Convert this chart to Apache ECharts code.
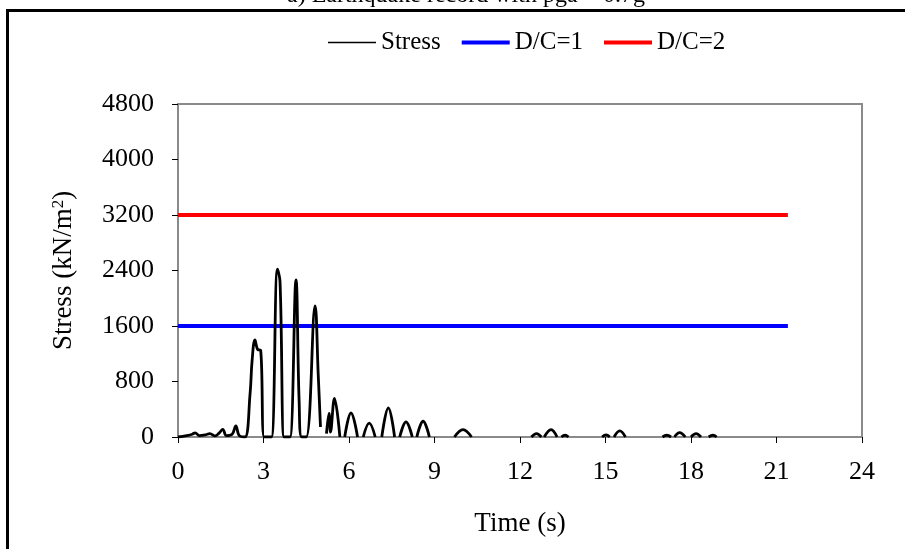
<!DOCTYPE html>
<html>
<head>
<meta charset="utf-8">
<script src="https://cdn.jsdelivr.net/npm/echarts@6/dist/echarts.min.js"></script>
<style>
  html, body { margin: 0; padding: 0; background: #fff; }
  #main { width: 905px; height: 549px; }
</style>
</head>
<body>
<div id="main"></div>
<script>
// stress trace, null = gap in the plotted line
const time = [
  0, 0.3, 0.5, 0.6, 0.75, 0.95, 1.12, 1.3, 1.45, 1.57, 1.7, 1.9, 2.03, 2.15, 2.35,
  2.53, 2.6, 2.7, 2.8, 2.9, 3.02, 3.15, 3.28, 3.49, 3.58, 3.72, 3.82, 3.93, 4.14, 4.25, 4.34,
  4.5, 4.81, 4.92, 5.0, 5.1,
  5.21, 5.3, 5.35, 5.49, 5.68, 5.75,
  5.85, 6.07, 6.3, 6.4,
  6.5, 6.71, 6.92, 7.0,
  7.15, 7.38, 7.6, 7.7,
  7.78, 8.0, 8.22, 8.3,
  8.38, 8.6, 8.82, 9.0,
  9.7, 10.0, 10.3, 10.5,
  12.4, 12.58, 12.75, 12.8,
  12.85, 13.09, 13.3, 13.4,
  13.45, 13.58, 13.7, 14.0,
  14.88, 15.02, 15.15, 15.2,
  15.3, 15.5, 15.7, 16.0,
  17.0, 17.15, 17.3, 17.35,
  17.42, 17.6, 17.8, 17.9,
  18.0, 18.18, 18.35, 18.5,
  18.62, 18.77, 18.9, 19.0
];
const stress = [
  0, 20, 40, 60, 20, 30, 50, 15, 60, 110, 20, 40, 160, 20, 0,
  630, 1100, 1400, 1260, 1250, 0, 0, 0, 2420, 2240, 0, 0, 0, 2265, 520, 0,
  0, 1890, 900, 145, null,
  50, 340, 70, 555, 0, null,
  0, 347, 0, null,
  0, 200, 0, null,
  0, 420, 0, null,
  0, 217, 0, null,
  0, 227, 0, null,
  0, 107, 0, null,
  0, 50, 0, null,
  0, 107, 0, null,
  0, 25, 0, null,
  0, 30, 0, null,
  0, 87, 0, null,
  0, 25, 0, null,
  0, 63, 0, null,
  0, 48, 0, null,
  0, 25, 0, null
];
const limitTime = [0, 21.4];
const dc1 = [1600, 1600];
const dc2 = [3200, 3200];
const xTicks = { min: 0, max: 24, interval: 3 };
const yTicks = { min: 0, max: 4800, interval: 800 };

const font = 'Liberation Serif';
const chartDom = document.getElementById('main');
const myChart = echarts.init(chartDom, null, { renderer: 'canvas' });

const stressData = time.map((t, i) => [t, stress[i] === null ? '-' : stress[i]]);

// legend icons: plain bars, the thin one padded with hairlines so it keeps its height
const thinBar = 'path://M0 0H48V0.05H0Z M0 1.3H48V2.7H0Z M0 3.95H48V4H0Z';

let option;

option = {
  backgroundColor: '#fff',
  animation: false,
  title: {
    text: 'a) Earthquake record with pga = 0.7g',
    left: 282,
    top: -21,
    textStyle: { fontFamily: font, fontSize: 24, fontWeight: 'normal', color: '#000' }
  },
  graphic: [{
    type: 'rect',
    shape: { x: 7.5, y: 10.5, width: 1000, height: 1000 },
    style: { fill: 'none', stroke: '#000', lineWidth: 3 },
    silent: true
  }],
  legend: {
    left: 323,
    top: 25,
    itemWidth: 48,
    itemHeight: 4,
    itemGap: 21,
    textStyle: { fontFamily: font, fontSize: 25, color: '#000' },
    data: [
      { name: 'Stress', icon: thinBar },
      { name: 'D/C=1', icon: 'rect' },
      { name: 'D/C=2', icon: 'rect' }
    ]
  },
  grid: {
    left: 178,
    right: 43,
    top: 104,
    bottom: 112,
    show: true,
    borderColor: '#8a8a8a',
    borderWidth: 2,
    backgroundColor: 'transparent'
  },
  xAxis: {
    type: 'value',
    min: xTicks.min,
    max: xTicks.max,
    interval: xTicks.interval,
    name: 'Time (s)',
    nameLocation: 'middle',
    nameGap: 73,
    nameTextStyle: { fontFamily: font, fontSize: 27, color: '#000' },
    axisLine: { lineStyle: { color: '#8a8a8a', width: 2 } },
    axisTick: { inside: false, length: 6, lineStyle: { color: '#000', width: 1 } },
    axisLabel: { fontFamily: font, fontSize: 26, color: '#000', margin: 22 },
    splitLine: { show: false }
  },
  yAxis: {
    type: 'value',
    min: yTicks.min,
    max: yTicks.max,
    interval: yTicks.interval,
    name: 'Stress (kN/m{sup|2})',
    nameLocation: 'middle',
    nameGap: 101,
    nameTextStyle: {
      fontFamily: font, fontSize: 27, color: '#000',
      rich: {
        sup: { fontFamily: font, fontSize: 17, color: '#000', verticalAlign: 'bottom', padding: [0, 0, 10, 0] }
      }
    },
    axisLine: { show: true, lineStyle: { color: '#8a8a8a', width: 2 } },
    axisTick: { show: true, inside: false, length: 6, lineStyle: { color: '#000', width: 1 } },
    axisLabel: {
      fontFamily: font, fontSize: 26, color: '#000', margin: 24,
      formatter: (v) => String(v)
    },
    splitLine: { show: false }
  },
  series: [
    {
      name: 'Stress',
      type: 'line',
      smooth: 0.4,
      symbol: 'none',
      connectNulls: false,
      data: stressData,
      lineStyle: { color: '#000', width: 2.8 },
      itemStyle: { color: '#000' },
      z: 3
    },
    {
      name: 'D/C=1',
      type: 'line',
      symbol: 'none',
      data: limitTime.map((t, i) => [t, dc1[i]]),
      lineStyle: { color: '#0000ff', width: 4 },
      itemStyle: { color: '#0000ff' },
      z: 2
    },
    {
      name: 'D/C=2',
      type: 'line',
      symbol: 'none',
      data: limitTime.map((t, i) => [t, dc2[i]]),
      lineStyle: { color: '#ff0000', width: 4 },
      itemStyle: { color: '#ff0000' },
      z: 2
    }
  ]
};

option && myChart.setOption(option);
</script>
</body>
</html>
